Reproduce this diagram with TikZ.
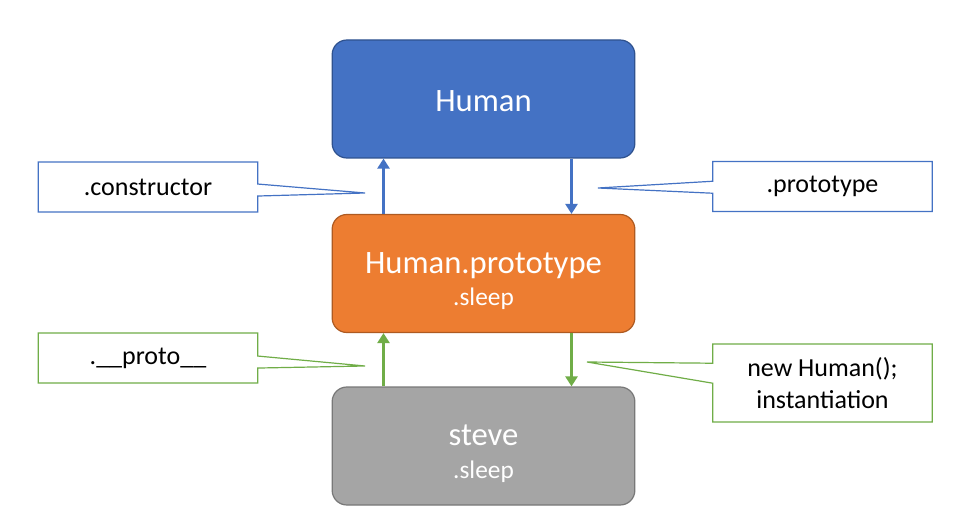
\documentclass[tikz,border=0pt]{standalone}
\usepackage{fontspec}
\setmainfont{Carlito}
\usepackage{xcolor}
\usetikzlibrary{shapes.callouts,arrows.meta}

\definecolor{humanblue}{HTML}{4472C4}
\definecolor{humanedge}{HTML}{2F528F}
\definecolor{protoorange}{HTML}{ED7D31}
\definecolor{protoedge}{HTML}{AE5A21}
\definecolor{stevegray}{HTML}{A5A5A5}
\definecolor{steveedge}{HTML}{787878}
\definecolor{linkgreen}{HTML}{70AD47}

\tikzset{
  objbox/.style={rectangle, rounded corners=11pt, line width=0.9pt,
    minimum width=227pt, minimum height=88.5pt, text=white, align=center,
    font=\fontsize{24.5}{26}\selectfont},
  notebox/.style={rectangle callout, draw, fill=white, line width=0.9pt,
    minimum width=164.5pt, minimum height=37.5pt, callout pointer width=9pt,
    align=center, font=\fontsize{19.5}{23.5}\selectfont},
  link/.style={line width=2.2pt, -{Triangle[width=9pt,length=7.5pt]}}
}
\newcommand{\subtext}[1]{{\fontsize{19}{20}\selectfont #1}}

\begin{document}
\begin{tikzpicture}[x=0.75pt,y=-0.75pt]
			\fill[white] (0,0) rectangle (967,531);
			\useasboundingbox (0,0) rectangle (967,531);
			
			% 三个对象（圆角矩形）
			\node[objbox, fill=humanblue, draw=humanedge] (human) at (483.5,99) {\rule{0pt}{19pt}Human};
			\node[objbox, fill=protoorange, draw=protoedge] (proto) at (483.5,273.5)
				{\rule{0pt}{27pt}Human.prototype\\[-2pt]\subtext{.sleep}};
			\node[objbox, fill=stevegray, draw=steveedge] (steve) at (483.5,446)
				{\rule{0pt}{27pt}steve\\[-1pt]\subtext{.sleep}};
			
			% 蓝色箭头：constructor 与 prototype
			\draw[link, humanblue] ([xshift=-75pt]proto.north) -- ([xshift=-75pt]human.south);
			\draw[link, humanblue] ([xshift=66pt]human.south) -- ([xshift=66pt]proto.north);
			
			% 绿色箭头：__proto__ 与 new
			\draw[link, linkgreen] ([xshift=-75pt]steve.north) -- ([xshift=-75pt]proto.south);
			\draw[link, linkgreen] ([xshift=66pt]proto.south) -- ([xshift=66pt]steve.north);
			
			% 标注框的指向点
			\coordinate (ctorTip) at (365,193);
			\coordinate (protoTip) at (598,188);
			\coordinate (dunderTip) at (365,366);
			\coordinate (newTip) at (587,362);
			
			% 标注框
			\node[notebox, draw=humanblue, callout absolute pointer={(ctorTip)}] (ctor) at (148,187) {.constructor};
			\node[notebox, draw=humanblue, callout absolute pointer={(protoTip)}] (protoNote) at (822.5,186.5) {.prototype};
			\node[notebox, draw=linkgreen, callout absolute pointer={(dunderTip)}] (dunder) at (148,358) {.\_\_proto\_\_};
			\node[notebox, draw=linkgreen, minimum height=58.5pt, callout pointer width=15pt,
				callout absolute pointer={(newTip)}] (newNote) at (822.5,383) {new Human();\\instantiation};
		\end{tikzpicture}
\end{document}
